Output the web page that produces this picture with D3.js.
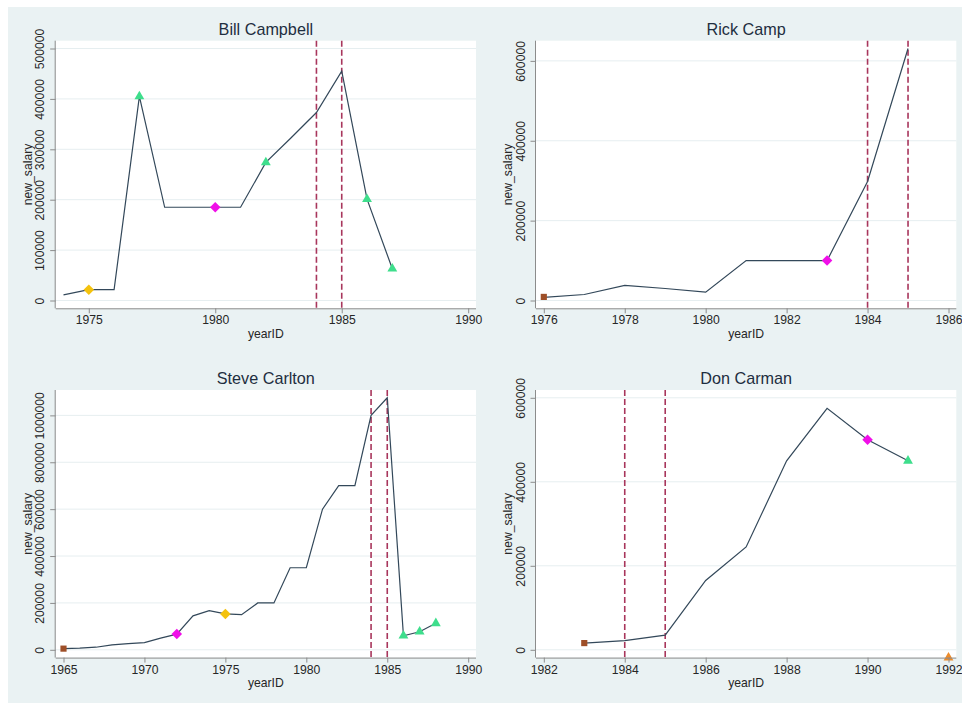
<!DOCTYPE html>
<html>
<head>
<meta charset="utf-8">
<script src="https://cdn.jsdelivr.net/npm/d3@7"></script>
<style>
  html, body { margin: 0; padding: 0; background: #ffffff; }
  svg { display: block; }
  text { font-family: "Liberation Sans", Arial, sans-serif; }
</style>
</head>
<body>
<svg id="chart" width="962" height="703"></svg>
<script>
// ---------- data ----------
const panelTitles = ["Bill Campbell", "Rick Camp", "Steve Carlton", "Don Carman"];

const campbellYears  = [1974, 1975, 1976, 1977, 1978, 1979, 1980, 1981, 1982, 1983, 1984, 1985, 1986, 1987];
const campbellSalary = [11000, 21500, 21500, 405000, 185000, 185000, 185000, 185000, 274000, 323000, 373000, 455000, 201000, 63000];

const campYears  = [1976, 1977, 1978, 1979, 1980, 1981, 1982, 1983, 1984, 1985];
const campSalary = [8000, 15000, 38000, 30000, 21000, 100000, 100000, 100000, 298000, 631000];

const carltonYears  = [1965, 1966, 1967, 1968, 1969, 1970, 1971, 1972, 1973, 1974, 1975, 1976, 1977, 1978, 1979, 1980, 1981, 1982, 1983, 1984, 1985, 1986, 1987, 1988];
const carltonSalary = [5000, 7000, 11000, 21000, 26000, 31000, 50000, 67000, 145000, 167000, 153000, 150000, 200000, 200000, 350000, 350000, 600000, 700000, 700000, 1000000, 1075000, 60000, 77000, 113000];

const carmanYears  = [1983, 1984, 1985, 1986, 1987, 1988, 1989, 1990, 1991];
const carmanSalary = [16000, 22000, 35000, 165000, 245000, 450000, 575000, 500000, 450000];

// marker annotations: year, value, type
const campbellMarkYears = [1975, 1977, 1980, 1982, 1986, 1987];
const campbellMarkVals  = [21500, 405000, 185000, 274000, 201000, 63000];
const campbellMarkTypes = ["yellow", "green", "magenta", "green", "green", "green"];

const campMarkYears = [1976, 1983];
const campMarkVals  = [9000, 100000];
const campMarkTypes = ["brown", "magenta"];

const carltonMarkYears = [1965, 1972, 1975, 1986, 1987, 1988];
const carltonMarkVals  = [5000, 67000, 153000, 60000, 77000, 113000];
const carltonMarkTypes = ["brown", "magenta", "yellow", "green", "green", "green"];

const carmanMarkYears = [1983, 1990, 1991, 1992];
const carmanMarkVals  = [16000, 500000, 450000, -19000];
const carmanMarkTypes = ["brown", "magenta", "green", "orange"];

// reference lines
const refYears = [1984, 1985];

// axis ticks
const campbellXTicks = [1975, 1980, 1985, 1990];
const campbellYTicks = [0, 100000, 200000, 300000, 400000, 500000];
const campXTicks = [1976, 1978, 1980, 1982, 1984, 1986];
const campYTicks = [0, 200000, 400000, 600000];
const carltonXTicks = [1965, 1970, 1975, 1980, 1985, 1990];
const carltonYTicks = [0, 200000, 400000, 600000, 800000, 1000000];
const carmanXTicks = [1982, 1984, 1986, 1988, 1990, 1992];
const carmanYTicks = [0, 200000, 400000, 600000];

const xAxisTitle = "yearID";
const yAxisTitle = "new_salary";

// ---------- styling ----------
const markerStyle = {
  yellow:  { shape: d3.symbolDiamond2, color: "#F4C20D", size: 70 },
  magenta: { shape: d3.symbolDiamond2, color: "#F00FE8", size: 70 },
  green:   { shape: d3.symbolTriangle, color: "#3EDE8C", size: 42 },
  brown:   { shape: d3.symbolSquare,   color: "#9E4F28", size: 38 },
  orange:  { shape: d3.symbolTriangle, color: "#EE8C2A", size: 42 }
};

const panels = [
  { title: panelTitles[0], years: campbellYears, sal: campbellSalary, mY: campbellMarkYears, mV: campbellMarkVals, mT: campbellMarkTypes, xt: campbellXTicks, yt: campbellYTicks },
  { title: panelTitles[1], years: campYears, sal: campSalary, mY: campMarkYears, mV: campMarkVals, mT: campMarkTypes, xt: campXTicks, yt: campYTicks },
  { title: panelTitles[2], years: carltonYears, sal: carltonSalary, mY: carltonMarkYears, mV: carltonMarkVals, mT: carltonMarkTypes, xt: carltonXTicks, yt: carltonYTicks },
  { title: panelTitles[3], years: carmanYears, sal: carmanSalary, mY: carmanMarkYears, mV: carmanMarkVals, mT: carmanMarkTypes, xt: carmanXTicks, yt: carmanYTicks }
];

const svg = d3.select("#chart");
svg.append("rect").attr("x", 8).attr("y", 7).attr("width", 954).attr("height", 696).attr("fill", "#EAF2F3");

const colLeft = [55.7, 536];
const rowTop = [40.7, 390];
const regW = 420.3, regH = 267.6;
const pad = 7.8;
const fs = "12.2px";

panels.forEach((p, i) => {
  const L = colLeft[i % 2], T = rowTop[Math.floor(i / 2)];
  const R = L + regW, B = T + regH;
  const g = svg.append("g");

  const xDom = [Math.min(d3.min(p.years), d3.min(p.xt)), Math.max(d3.max(p.years), d3.max(p.xt))];
  const yDom = [Math.min(0, d3.min(p.sal)), Math.max(d3.max(p.sal), d3.max(p.yt))];
  const x = d3.scaleLinear().domain(xDom).range([L + pad, R - pad]);
  const y = d3.scaleLinear().domain(yDom).range([B - pad, T + pad]);

  // plot region
  g.append("rect").attr("x", L).attr("y", T).attr("width", regW).attr("height", regH).attr("fill", "#ffffff");

  // grid
  g.selectAll(".grid").data(p.yt).enter().append("line")
    .attr("x1", L).attr("x2", R)
    .attr("y1", d => y(d)).attr("y2", d => y(d))
    .attr("stroke", "#E6EEF0").attr("stroke-width", 1);

  // reference lines
  g.selectAll(".ref").data(refYears).enter().append("line")
    .attr("x1", d => x(d)).attr("x2", d => x(d))
    .attr("y1", T).attr("y2", B)
    .attr("stroke", "#A8365C").attr("stroke-width", 1.6)
    .attr("stroke-dasharray", "6,3");

  // line
  const line = d3.line().x((d, k) => x(p.years[k])).y(d => y(d));
  g.append("path").datum(p.sal).attr("d", line)
    .attr("fill", "none").attr("stroke", "#33485A").attr("stroke-width", 1.2);

  // markers
  p.mY.forEach((yr, k) => {
    const st = markerStyle[p.mT[k]];
    g.append("path")
      .attr("d", d3.symbol().type(st.shape).size(st.size)())
      .attr("transform", `translate(${x(yr)},${y(p.mV[k])})`)
      .attr("fill", st.color);
  });

  // axes
  const xAxis = d3.axisBottom(x).tickValues(p.xt).tickSize(5).tickSizeOuter(0).tickFormat(d3.format("d"));
  const xg = g.append("g").attr("transform", `translate(0,${B})`).call(xAxis);
  xg.select(".domain").attr("d", `M${L},0.5H${R}`).attr("stroke", "#8C8C8C");
  xg.selectAll(".tick line").attr("stroke", "#8C8C8C");
  xg.selectAll(".tick text").attr("font-size", fs).attr("fill", "#262626").attr("y", 7.5).attr("dy", "0.71em");

  const yAxis = d3.axisLeft(y).tickValues(p.yt).tickSize(5.5).tickSizeOuter(0).tickFormat(d3.format("d"));
  const yg = g.append("g").attr("transform", `translate(${L},0)`).call(yAxis);
  yg.select(".domain").attr("d", `M-0.5,${T}V${B}`).attr("stroke", "#8C8C8C");
  yg.selectAll(".tick line").attr("stroke", "#8C8C8C");
  yg.selectAll(".tick text")
    .attr("font-size", fs).attr("fill", "#262626")
    .attr("x", null).attr("dy", null)
    .attr("text-anchor", "middle")
    .attr("transform", "translate(-11.3,0) rotate(-90)");

  // titles
  g.append("text").attr("x", (L + R) / 2).attr("y", T - 6.2)
    .attr("text-anchor", "middle").attr("font-size", "16.2px").attr("fill", "#1E2E40")
    .text(p.title);
  g.append("text").attr("x", (L + R) / 2).attr("y", B + 29.5)
    .attr("text-anchor", "middle").attr("font-size", fs).attr("fill", "#262626")
    .text(xAxisTitle);
  g.append("text")
    .attr("transform", `translate(${L - 24},${(T + B) / 2}) rotate(-90)`)
    .attr("text-anchor", "middle").attr("font-size", fs).attr("fill", "#262626")
    .text(yAxisTitle);
});
</script>
</body>
</html>
